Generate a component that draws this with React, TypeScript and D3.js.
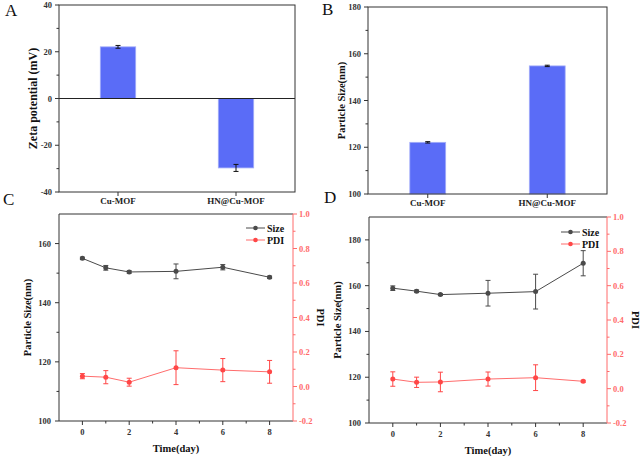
import React from "react";
import * as d3 from "d3";

const barCategories = ["Cu-MOF", "HN@Cu-MOF"];
const zetaValues = [22.1, -29.7];
const zetaErrors = [0.6, 1.5];
const sizeBarValues = [122.1, 154.8];
const sizeBarErrors = [0.3, 0.3];

const days = [0, 1, 2, 4, 6, 8];
const sizeC = [155.0, 151.8, 150.4, 150.6, 152.0, 148.6];
const sizeCErr = [0.4, 0.8, 0.4, 2.5, 0.9, 0.4];
const pdiC = [0.06, 0.054, 0.025, 0.109, 0.095, 0.085];
const pdiCErr = [0.015, 0.038, 0.023, 0.098, 0.067, 0.066];

const sizeD = [158.9, 157.6, 156.1, 156.7, 157.4, 169.8];
const sizeDErr = [1.0, 0.5, 0.4, 5.6, 7.6, 5.5];
const pdiD = [0.056, 0.037, 0.039, 0.056, 0.064, 0.043];
const pdiDErr = [0.042, 0.03, 0.057, 0.041, 0.075, 0.006];

const zetaTicks = [-40, -20, 0, 20, 40];
const sizeBarTicks = [100, 120, 140, 160, 180];
const sizeCTicks = [100, 120, 140, 160];
const sizeDTicks = [100, 120, 140, 160, 180];
const pdiTicks = [-0.2, 0.0, 0.2, 0.4, 0.6, 0.8, 1.0];
const dayTicks = [0, 2, 4, 6, 8];

const FONT = "'Liberation Serif', 'Times New Roman', serif";
const AXIS = "#333";
const RED = "#ff4747";
const RED_AXIS = "#ff6b6b";
const GRAY = "#4a4a4a";
const BLUE = "#5a6cf7";

type Box = { x0: number; x1: number; y0: number; y1: number };

function BarPanel({
  box, domain, ticks, values, errors, yLabel, zeroLine, labelX, labelSize,
}: {
  box: Box; domain: [number, number]; ticks: number[]; values: number[]; errors: number[];
  yLabel: string; zeroLine: boolean; labelX: number; labelSize: number;
}) {
  const x = d3.scalePoint<string>().domain(barCategories).range([box.x0, box.x1]).padding(0.5);
  const y = d3.scaleLinear().domain(domain).range([box.y1, box.y0]);
  const bw = (box.x1 - box.x0) * 0.15;
  const base = zeroLine ? 0 : domain[0];
  const minor: number[] = [];
  for (let i = 0; i < ticks.length - 1; i++) minor.push((ticks[i] + ticks[i + 1]) / 2);
  return (
    <g>
      {barCategories.map((c, i) => {
        const v = values[i];
        const top = y(Math.max(v, base));
        const bot = y(Math.min(v, base));
        const cx = x(c)!;
        const e1 = y(v + errors[i]);
        const e2 = y(v - errors[i]);
        return (
          <g key={c}>
            <rect x={cx - bw / 2} y={top} width={bw} height={bot - top} fill={BLUE} stroke="#a3adf8" strokeWidth={0.8} />
            <line x1={cx} x2={cx} y1={e1} y2={e2} stroke="#111" strokeWidth={1} />
            <line x1={cx - 2.5} x2={cx + 2.5} y1={e1} y2={e1} stroke="#111" strokeWidth={1} />
            <line x1={cx - 2.5} x2={cx + 2.5} y1={e2} y2={e2} stroke="#111" strokeWidth={1} />
          </g>
        );
      })}
      {zeroLine && <line x1={box.x0} x2={box.x1} y1={y(0)} y2={y(0)} stroke="#222" strokeWidth={1} />}
      <rect x={box.x0} y={box.y0} width={box.x1 - box.x0} height={box.y1 - box.y0} fill="none" stroke={AXIS} strokeWidth={1} />
      {ticks.map((t) => (
        <g key={t}>
          <line x1={box.x0 - 4} x2={box.x0} y1={y(t)} y2={y(t)} stroke={AXIS} />
          <text x={box.x0 - 7} y={y(t) + 3} textAnchor="end" fontSize={8.5} fontWeight="bold" fill="#333" fontFamily={FONT}>{t}</text>
        </g>
      ))}
      {minor.map((t) => (
        <line key={t} x1={box.x0 - 2.5} x2={box.x0} y1={y(t)} y2={y(t)} stroke={AXIS} />
      ))}
      {barCategories.map((c) => (
        <g key={c}>
          <line x1={x(c)} x2={x(c)} y1={box.y1} y2={box.y1 + 4} stroke={AXIS} />
          <text x={x(c)} y={box.y1 + 12} textAnchor="middle" fontSize={9} fontWeight="bold" fill="#222" fontFamily={FONT}>{c}</text>
        </g>
      ))}
      <text transform={`translate(${labelX},${(box.y0 + box.y1) / 2}) rotate(-90)`} textAnchor="middle" fontSize={labelSize} fontWeight="bold" fill="#111" fontFamily={FONT}>{yLabel}</text>
    </g>
  );
}

function LinePanel({
  box, sizeDomain, sizeTicks, size, sizeErr, pdi, pdiErr, legendX, legendY, pdiLabelX,
}: {
  box: Box; sizeDomain: [number, number]; sizeTicks: number[]; size: number[]; sizeErr: number[];
  pdi: number[]; pdiErr: number[]; legendX: number; legendY: number; pdiLabelX: number;
}) {
  const x = d3.scaleLinear().domain([-1, 9]).range([box.x0, box.x1]);
  const yl = d3.scaleLinear().domain(sizeDomain).range([box.y1, box.y0]);
  const yr = d3.scaleLinear().domain([-0.2, 1.0]).range([box.y1, box.y0]);
  const line = d3.line<number>();
  const sizePts = days.map((d, i) => [x(d), yl(size[i])] as [number, number]);
  const pdiPts = days.map((d, i) => [x(d), yr(pdi[i])] as [number, number]);
  const leftMinor: number[] = [];
  for (let v = sizeDomain[0] + 10; v < sizeDomain[1]; v += 20) leftMinor.push(v);
  const rightMinor: number[] = [];
  for (let i = 0; i < pdiTicks.length - 1; i++) rightMinor.push((pdiTicks[i] + pdiTicks[i + 1]) / 2);
  const xMinor = [1, 3, 5, 7];
  const errBar = (cx: number, a: number, b: number, color: string, k: string) => (
    <g key={k}>
      <line x1={cx} x2={cx} y1={a} y2={b} stroke={color} strokeWidth={1} />
      <line x1={cx - 2.5} x2={cx + 2.5} y1={a} y2={a} stroke={color} strokeWidth={1} />
      <line x1={cx - 2.5} x2={cx + 2.5} y1={b} y2={b} stroke={color} strokeWidth={1} />
    </g>
  );
  return (
    <g>
      <path d={line(sizePts)!} fill="none" stroke={GRAY} strokeWidth={1} />
      {days.map((d, i) => errBar(x(d), yl(size[i] + sizeErr[i]), yl(size[i] - sizeErr[i]), GRAY, "se" + i))}
      {sizePts.map((p, i) => <circle key={"sp" + i} cx={p[0]} cy={p[1]} r={2.5} fill={GRAY} />)}
      <path d={line(pdiPts)!} fill="none" stroke={RED} strokeWidth={1} strokeOpacity={0.8} />
      {days.map((d, i) => errBar(x(d), yr(pdi[i] + pdiErr[i]), yr(pdi[i] - pdiErr[i]), RED, "pe" + i))}
      {pdiPts.map((p, i) => <circle key={"pp" + i} cx={p[0]} cy={p[1]} r={2.5} fill={RED} />)}
      <line x1={box.x0} x2={box.x1} y1={box.y0} y2={box.y0} stroke={AXIS} />
      <line x1={box.x0} x2={box.x1} y1={box.y1} y2={box.y1} stroke={AXIS} />
      <line x1={box.x0} x2={box.x0} y1={box.y0} y2={box.y1} stroke={AXIS} />
      <line x1={box.x1} x2={box.x1} y1={box.y0} y2={box.y1} stroke={RED_AXIS} />
      {sizeTicks.map((t) => (
        <g key={"l" + t}>
          <line x1={box.x0 - 4} x2={box.x0} y1={yl(t)} y2={yl(t)} stroke={AXIS} />
          <text x={box.x0 - 8} y={yl(t) + 3} textAnchor="end" fontSize={8.5} fontWeight="bold" fill="#333" fontFamily={FONT}>{t}</text>
        </g>
      ))}
      {leftMinor.map((t) => <line key={"lm" + t} x1={box.x0 - 2.5} x2={box.x0} y1={yl(t)} y2={yl(t)} stroke={AXIS} />)}
      {pdiTicks.map((t) => (
        <g key={"r" + t}>
          <line x1={box.x1} x2={box.x1 + 4} y1={yr(t)} y2={yr(t)} stroke={RED_AXIS} />
          <text x={box.x1 + 6} y={yr(t) + 3} textAnchor="start" fontSize={8.5} fontWeight="bold" fill={RED_AXIS} fontFamily={FONT}>{t.toFixed(1)}</text>
        </g>
      ))}
      {rightMinor.map((t, i) => <line key={"rm" + i} x1={box.x1} x2={box.x1 + 2.5} y1={yr(t)} y2={yr(t)} stroke={RED_AXIS} />)}
      {dayTicks.map((t) => (
        <g key={"x" + t}>
          <line x1={x(t)} x2={x(t)} y1={box.y1} y2={box.y1 + 4} stroke={AXIS} />
          <text x={x(t)} y={box.y1 + 14} textAnchor="middle" fontSize={8.5} fontWeight="bold" fill="#333" fontFamily={FONT}>{t}</text>
        </g>
      ))}
      {xMinor.map((t) => <line key={"xm" + t} x1={x(t)} x2={x(t)} y1={box.y1} y2={box.y1 + 2.5} stroke={AXIS} />)}
      <text x={(box.x0 + box.x1) / 2} y={box.y1 + 31} textAnchor="middle" fontSize={10.5} fontWeight="bold" fill="#111" fontFamily={FONT}>Time(day)</text>
      <text transform={`translate(${box.x0 - 28},${(box.y0 + box.y1) / 2}) rotate(-90)`} textAnchor="middle" fontSize={10.5} fontWeight="bold" fill="#111" fontFamily={FONT}>Particle Size(nm)</text>
      <text transform={`translate(${pdiLabelX},${(box.y0 + box.y1) / 2}) rotate(90)`} textAnchor="middle" fontSize={10.5} fontWeight="bold" fill="#111" fontFamily={FONT}>PDI</text>
      <line x1={legendX} x2={legendX + 19} y1={legendY} y2={legendY} stroke={GRAY} />
      <circle cx={legendX + 9.5} cy={legendY} r={2.3} fill={GRAY} />
      <text x={legendX + 21} y={legendY + 3.5} fontSize={10} fontWeight="bold" fill="#111" fontFamily={FONT}>Size</text>
      <line x1={legendX} x2={legendX + 19} y1={legendY + 12} y2={legendY + 12} stroke={RED} strokeOpacity={0.8} />
      <circle cx={legendX + 9.5} cy={legendY + 12} r={2.3} fill={RED} />
      <text x={legendX + 21} y={legendY + 15.5} fontSize={10} fontWeight="bold" fill="#111" fontFamily={FONT}>PDI</text>
    </g>
  );
}

export default function App() {
  const letter = (t: string, x: number, y: number) => (
    <text x={x} y={y} fontSize={17} fill="#111" fontFamily={FONT}>{t}</text>
  );
  return (
    <svg width={640} height={459} style={{ position: "absolute", left: 0, top: 0, background: "#fff" }}>
      <rect width={640} height={459} fill="#fff" />
      <BarPanel box={{ x0: 59, x1: 295, y0: 5, y1: 192 }} domain={[-40, 40]} ticks={zetaTicks} values={zetaValues} errors={zetaErrors} yLabel="Zeta potential (mV)" zeroLine={true} labelX={37} labelSize={12} />
      <BarPanel box={{ x0: 368, x1: 607, y0: 7, y1: 194 }} domain={[100, 180]} ticks={sizeBarTicks} values={sizeBarValues} errors={sizeBarErrors} yLabel="Particle Size(nm)" zeroLine={false} labelX={345} labelSize={10.5} />
      <LinePanel box={{ x0: 59, x1: 293, y0: 214, y1: 421 }} sizeDomain={[100, 170]} sizeTicks={sizeCTicks} size={sizeC} sizeErr={sizeCErr} pdi={pdiC} pdiErr={pdiCErr} legendX={246} legendY={228} pdiLabelX={317} />
      <LinePanel box={{ x0: 369, x1: 607, y0: 217, y1: 423 }} sizeDomain={[100, 190]} sizeTicks={sizeDTicks} size={sizeD} sizeErr={sizeDErr} pdi={pdiD} pdiErr={pdiDErr} legendX={561} legendY={232} pdiLabelX={632} />
      {letter("A", 5, 16)}
      {letter("B", 322, 15)}
      {letter("C", 3, 205)}
      {letter("D", 324, 203)}
    </svg>
  );
}
